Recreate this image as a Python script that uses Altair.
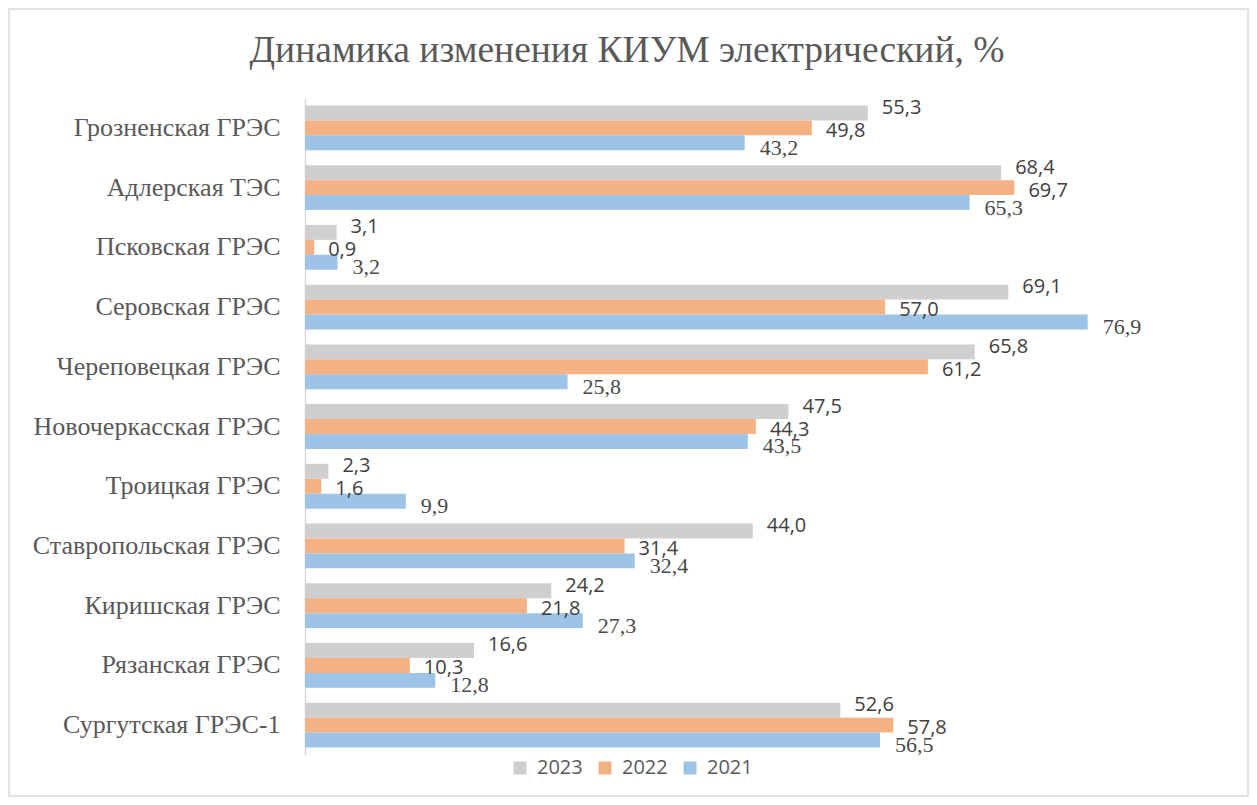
import altair as alt
import pandas as pd

categories = ["Грозненская ГРЭС", "Адлерская ТЭС", "Псковская ГРЭС", "Серовская ГРЭС",
              "Череповецкая ГРЭС", "Новочеркасская ГРЭС", "Троицкая ГРЭС",
              "Ставропольская ГРЭС", "Киришская ГРЭС", "Рязанская ГРЭС", "Сургутская ГРЭС-1"]
years = ["2023", "2022", "2021"]
v2023 = [55.3, 68.4, 3.1, 69.1, 65.8, 47.5, 2.3, 44.0, 24.2, 16.6, 52.6]
v2022 = [49.8, 69.7, 0.9, 57.0, 61.2, 44.3, 1.6, 31.4, 21.8, 10.3, 57.8]
v2021 = [43.2, 65.3, 3.2, 76.9, 25.8, 43.5, 9.9, 32.4, 27.3, 12.8, 56.5]
colors = ["#D0CECE", "#F4B183", "#9DC3E6"]
title_text = "Динамика изменения КИУМ электрический, %"

rows = []
for yr, vals in zip(years, [v2023, v2022, v2021]):
    for c, v in zip(categories, vals):
        rows.append({"station": c, "year": yr, "value": v})
df = pd.DataFrame(rows)

W, H = 916, 657
PL, PT, PR, PB = 297, 90, 28, 42
SERIF = "Liberation Serif, Times New Roman, serif"

y_enc = alt.Y("station:N", sort=categories, title=None,
              scale=alt.Scale(paddingInner=0.25, paddingOuter=0.125),
              axis=alt.Axis(domainColor="#D9D9D9", domainWidth=1.5, ticks=False,
                            labelFont=SERIF, labelFontSize=26,
                            labelColor="#595959", labelPadding=25, labelLimit=300))
yoff = alt.YOffset("year:N", sort=years)
x_enc = alt.X("value:Q", scale=alt.Scale(domain=[0, 90]), axis=None)

base = alt.Chart(df)

bars = base.mark_bar().encode(
    y=y_enc, yOffset=yoff, x=x_enc,
    color=alt.Color("year:N", sort=years,
                    scale=alt.Scale(domain=years, range=colors),
                    legend=alt.Legend(title=None, orient="none", direction="horizontal",
                                      legendX=205, legendY=660, symbolType="square",
                                      symbolSize=169, symbolStrokeWidth=0,
                                      labelFont="Open Sans", labelFontSize=20,
                                      labelColor="#595959", columnPadding=12,
                                      symbolOffset=0, labelOffset=7))
)

lbl = base.transform_calculate(
    label="replace(format(datum.value, '.1f'), '.', ',')"
)

t23 = lbl.transform_filter("datum.year == '2023'").mark_text(
    align="left", baseline="middle", dx=14, dy=-5, font="Open Sans", fontSize=20, color="#404040"
).encode(y=y_enc, yOffset=yoff, x=x_enc, text="label:N")
t22 = lbl.transform_filter("datum.year == '2022'").mark_text(
    align="left", baseline="middle", dx=14, dy=3, font="Open Sans", fontSize=20, color="#404040"
).encode(y=y_enc, yOffset=yoff, x=x_enc, text="label:N")
t21 = lbl.transform_filter("datum.year == '2021'").mark_text(
    align="left", baseline="middle", dx=15, dy=5, font=SERIF, fontSize=22, color="#4a4a4a"
).encode(y=y_enc, yOffset=yoff, x=x_enc, text="label:N")

border = alt.Chart(alt.Data(values=[{}])).mark_rect(
    fill=None, stroke="#D9D9D9", strokeWidth=1.5
).encode(x=alt.value(-PL + 1), x2=alt.value(W + PR - 1),
         y=alt.value(-PT + 1), y2=alt.value(H + PB - 1))

title = alt.Chart(alt.Data(values=[{"t": title_text}])).mark_text(
    font=SERIF, fontSize=37.5, color="#595959",
    align="center", baseline="alphabetic"
).encode(x=alt.value(322), y=alt.value(-36), text="t:N")

chart = alt.layer(border, title, bars, t23, t22, t21).properties(
    width=W, height=H,
    padding={"left": PL, "top": PT, "right": PR, "bottom": PB},
    autosize=alt.AutoSizeParams(type="none"),
).configure_view(stroke=None)

chart.save("out.html", embed_options={"renderer": "svg", "actions": False})
